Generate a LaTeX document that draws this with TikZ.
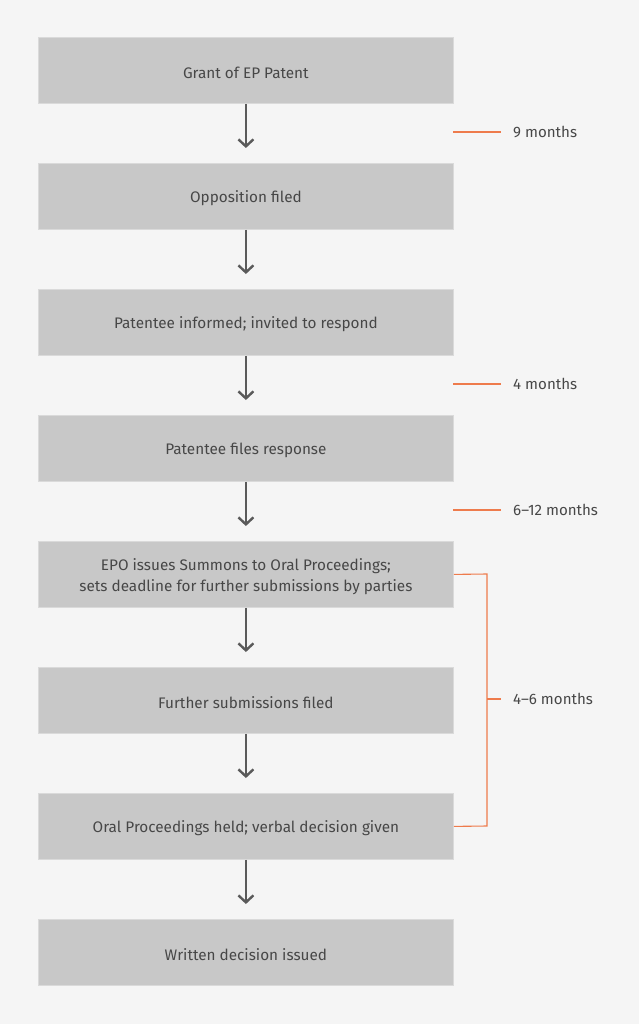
\documentclass[tikz,border=0pt]{standalone}
\usepackage{fontspec}
\setmainfont{Fira Sans}
\usetikzlibrary{arrows.meta}
\definecolor{bg}{HTML}{F5F5F5}
\definecolor{boxfill}{HTML}{C8C8C8}
\definecolor{boxedge}{HTML}{DADADA}
\definecolor{txt}{HTML}{474747}
\definecolor{arr}{HTML}{5A5A5A}
\definecolor{orng}{HTML}{EE7B4C}
\begin{document}
\begin{tikzpicture}[x=1pt,y=-1pt,
  stepbox/.style={draw=boxedge,line width=0.8pt,fill=boxfill,minimum width=415pt,minimum height=66pt,inner sep=0pt,anchor=north west},
  steptext/.style={align=center,font=\fontsize{15.3}{21}\selectfont,text=txt,inner sep=0pt,yshift=-2pt},
  flow/.style={draw=arr,line width=2.4pt,-{Straight Barb[length=7pt,width=15pt,line width=2.4pt]},shorten >=15pt},
  span/.style={draw=orng,line width=1.1pt},
  lbl/.style={font=\fontsize{15.1}{18}\selectfont,text=txt,anchor=west,inner sep=0pt}]
\fill[bg] (0,0) rectangle (639,1024);
\useasboundingbox (0,0) rectangle (639,1024);
\node[stepbox,label={[steptext]center:Grant of EP Patent}] (b1) at (38,37) {};
\node[stepbox,label={[steptext]center:Opposition filed}] (b2) at (38,163) {};
\node[stepbox,label={[steptext]center:Patentee informed; invited to respond}] (b3) at (38,289) {};
\node[stepbox,label={[steptext]center:Patentee files response}] (b4) at (38,415) {};
\node[stepbox,label={[steptext]center:{EPO issues Summons to Oral Proceedings;\\sets deadline for further submissions by parties}}] (b5) at (38,541) {};
\node[stepbox,label={[steptext]center:Further submissions filed}] (b6) at (38,667) {};
\node[stepbox,label={[steptext]center:Oral Proceedings held; verbal decision given}] (b7) at (38,793) {};
\node[stepbox,label={[steptext]center:Written decision issued}] (b8) at (38,919) {};
\foreach \a/\b in {b1/b2,b2/b3,b3/b4,b4/b5,b5/b6,b6/b7,b7/b8}
  \draw[flow] (\a.south) -- (\b.north);
% simple durations
\coordinate (t1) at (501,132);
\coordinate (t2) at (501,384);
\coordinate (t3) at (501,510);
\draw[span] (453,132) -- (t1);
\draw[span] (453,384) -- (t2);
\draw[span] (453,510) -- (t3);
\node[lbl] (l1) at (513,132) {9 months};
\node[lbl] (l2) at (513,384) {4 months};
\node[lbl] (l3) at (513,510) {6–12 months};
% bracket
\coordinate (c1) at (487,574);
\coordinate (c2) at (487,826);
\coordinate (c3) at (487,699);
\coordinate (c4) at (501,699);
\draw[span] (b5.east) -- (c1) -- (c2) -- (b7.east);
\draw[span] (c3) -- (c4);
\node[lbl] (l4) at (513,699) {4–6 months};
\end{tikzpicture}
\end{document}
